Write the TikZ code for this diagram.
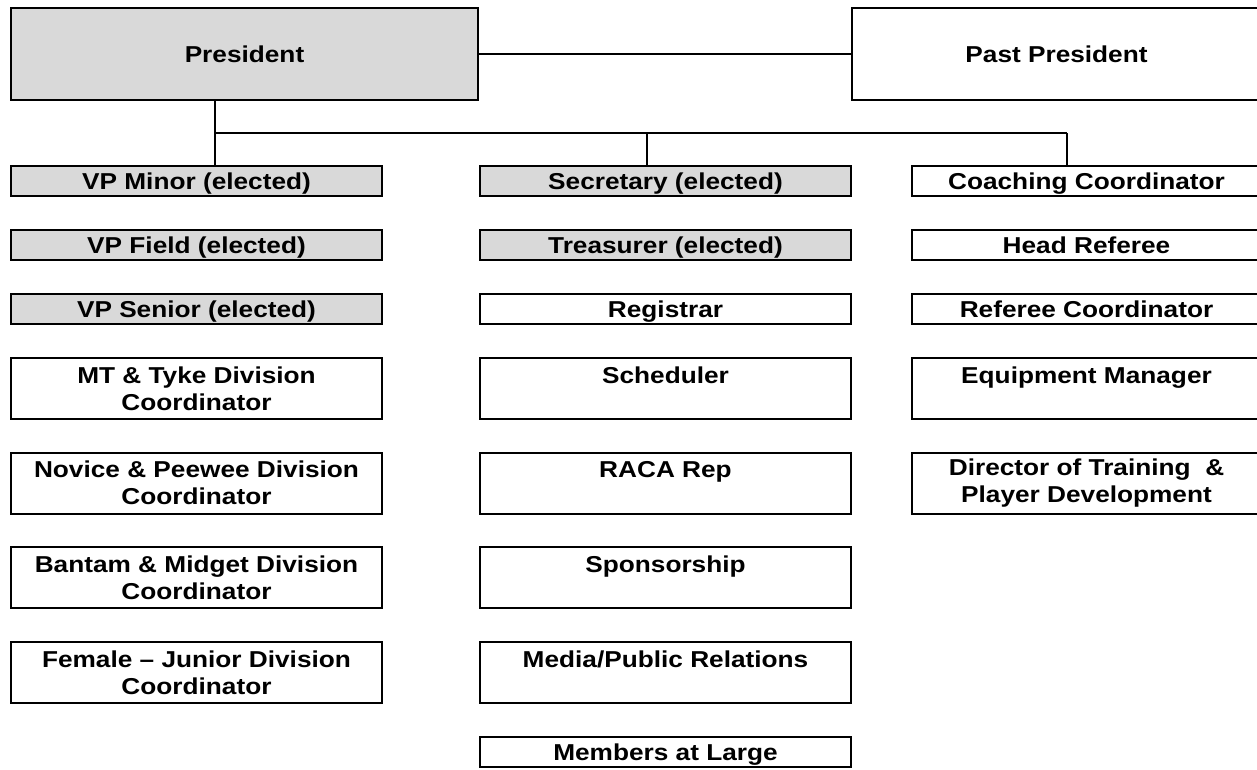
\documentclass[tikz,border=0pt]{standalone}
\usepackage{fontspec}
\setmainfont{Liberation Sans}[FakeStretch=1.14]
\usepackage{tikz}
\definecolor{boxgray}{HTML}{D9D9D9}
\tikzset{
  box/.style={draw=black, line width=1pt, inner sep=0pt, align=center, text=black,
    font=\fontsize{11.5}{13.4}\selectfont\bfseries},
  colbox/.style={box, minimum width=185.5pt},
  rightbox/.style={box, minimum width=175pt},
  oneline/.style={text height=8.2pt, text depth=0pt},
  onerow/.style={oneline, minimum height=15pt},
  tworow/.style={minimum height=30.5pt},
  elect/.style={fill=boxgray},
  link/.style={draw=black, line width=0.85pt},
}

\begin{document}
\begin{tikzpicture}[x=0.5pt,y=-0.5pt]
  \clip (0,0) rectangle (1257,770);
  \fill[white] (0,0) rectangle (1257,770);
  % top row
  \node[box, elect, oneline, minimum width=233.5pt, minimum height=46pt] (pres) at (244.5,54) {President};
  \node[box, oneline, minimum width=205pt, minimum height=46pt] (past) at (1056.5,54) {Past President};
  % left column
  \node[colbox, onerow, elect] (vpminor) at (196.5,181) {VP Minor (elected)};
  \node[colbox, onerow, elect] (vpfield) at (196.5,245) {VP Field (elected)};
  \node[colbox, onerow, elect] (vpsenior) at (196.5,309) {VP Senior (elected)};
  \node[colbox, tworow] (mttyke) at (196.5,388.5) {MT \& Tyke Division\\Coordinator};
  \node[colbox, tworow] (novice) at (196.5,483) {Novice \& Peewee Division\\Coordinator};
  \node[colbox, tworow] (bantam) at (196.5,577.5) {Bantam \& Midget Division\\Coordinator};
  \node[colbox, tworow] (female) at (196.5,672.5) {Female -- Junior Division\\Coordinator};
  % middle column
  \node[colbox, onerow, elect] (sec) at (665.5,181) {Secretary (elected)};
  \node[colbox, onerow, elect] (treas) at (665.5,245) {Treasurer (elected)};
  \node[colbox, onerow] (registrar) at (665.5,309) {Registrar};
  \node[colbox, tworow] (sched) at (665.5,388.5) {Scheduler\\\phantom{Coordinator}};
  \node[colbox, tworow] (raca) at (665.5,483) {RACA Rep\\\phantom{Coordinator}};
  \node[colbox, tworow] (spons) at (665.5,577.5) {Sponsorship\\\phantom{Coordinator}};
  \node[colbox, tworow] (media) at (665.5,672.5) {Media/Public Relations\\\phantom{Coordinator}};
  \node[colbox, onerow] (members) at (665.5,752) {Members at Large};
  % right column
  \node[rightbox, onerow] (coach) at (1086.5,181) {Coaching Coordinator};
  \node[rightbox, onerow] (headref) at (1086.5,245) {Head Referee};
  \node[rightbox, onerow] (refcoord) at (1086.5,309) {Referee Coordinator};
  \node[rightbox, tworow] (equip) at (1086.5,388.5) {Equipment Manager\\\phantom{Coordinator}};
  \node[rightbox, tworow] (director) at (1086.5,483) {Director of Training \ \&\\Player Development};
  % connectors
  \coordinate (busL) at (215,133);
  \coordinate (busM) at (647,133);
  \coordinate (busR) at (1067,133);
  \draw[link] (pres) -- (past);
  \draw[link] (pres.south -| busL) -- (vpminor.north -| busL);
  \draw[link] (busL) -- (busR);
  \draw[link] (busM) -- (sec.north -| busM);
  \draw[link] (busR) -- (coach.north -| busR);
\end{tikzpicture}
\end{document}
